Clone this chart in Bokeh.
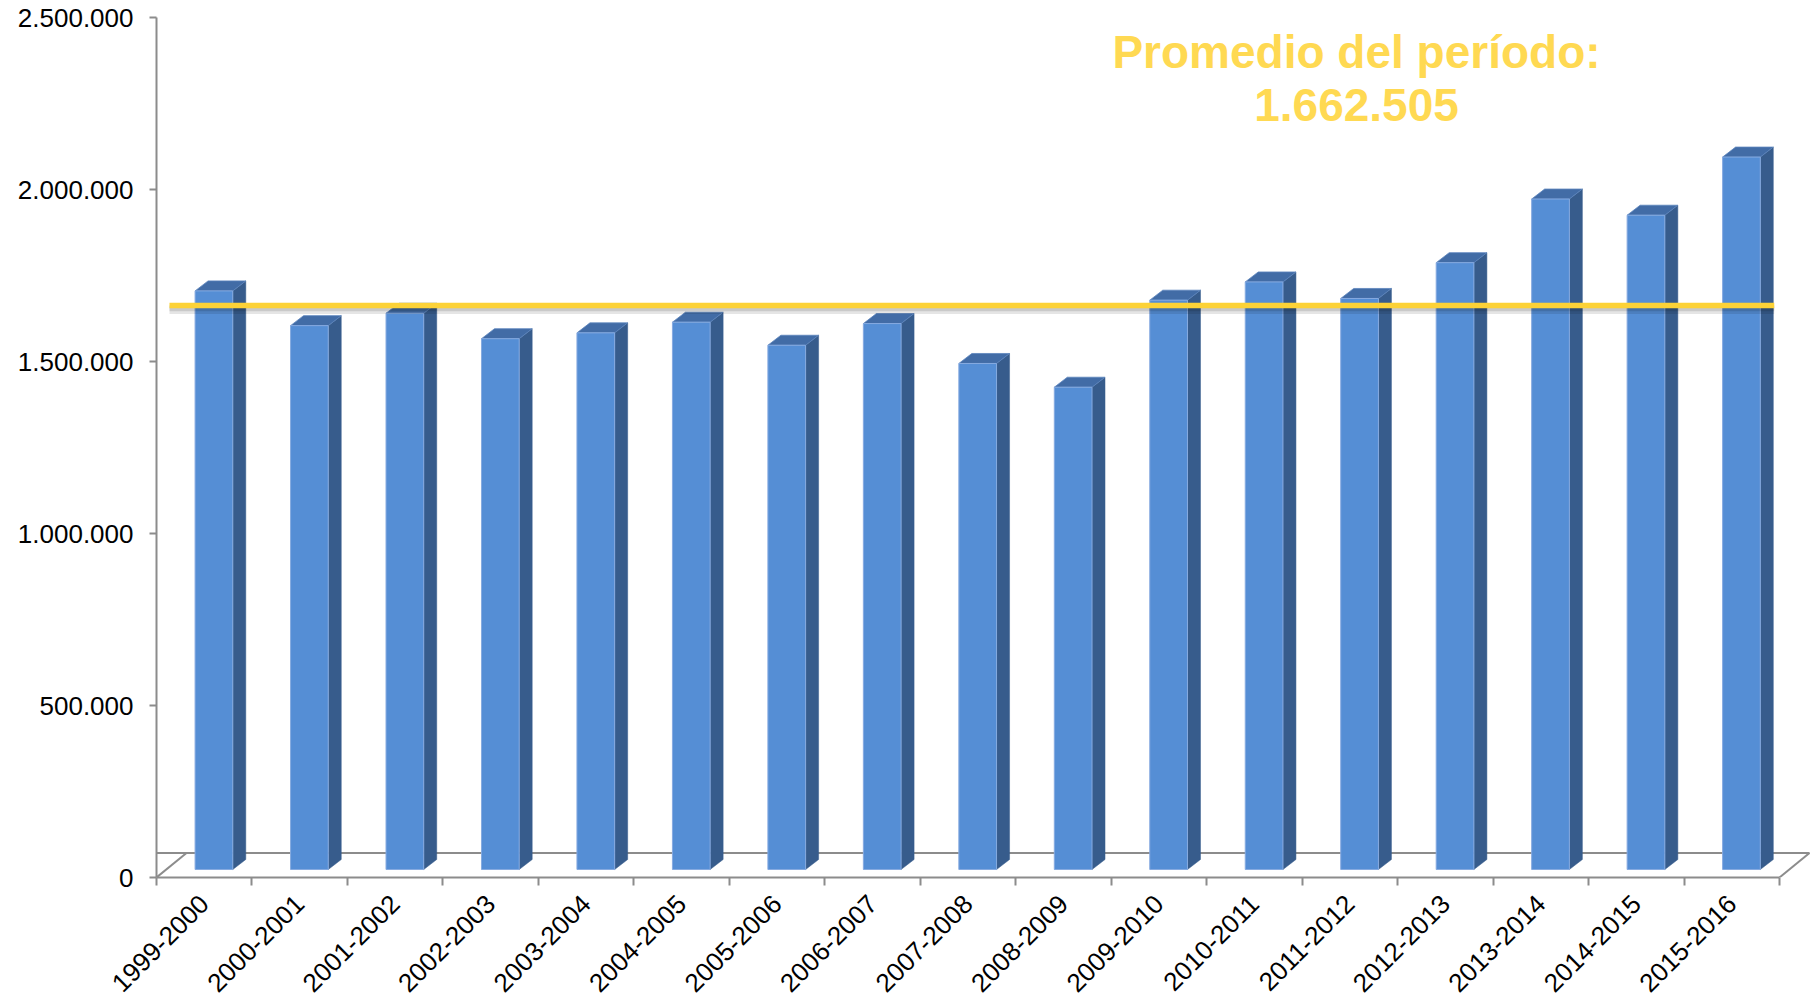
import math
from bokeh.plotting import figure
from bokeh.models import Range1d, FixedTicker, Label
from bokeh.embed import file_html
from bokeh.resources import INLINE

# ---------------- data ----------------
seasons = ["1999-2000", "2000-2001", "2001-2002", "2002-2003", "2003-2004",
           "2004-2005", "2005-2006", "2006-2007", "2007-2008", "2008-2009",
           "2009-2010", "2010-2011", "2011-2012", "2012-2013", "2013-2014",
           "2014-2015", "2015-2016"]
students = [1682000, 1581000, 1617000, 1543000, 1560000,
            1591000, 1524000, 1587000, 1471000, 1402000,
            1655000, 1708000, 1660000, 1764000, 1949000,
            1902000, 2071000]
average_value = 1662505
title_line = "Promedio del período:"
y_ticks = [0, 500000, 1000000, 1500000, 2000000, 2500000]


def fmt(v):
    return f"{v:,}".replace(",", ".")


# ---------------- layout constants ----------------
LEFT, TOP, BOTTOM = 156, 8, 127
frame_w = 1656
frame_h = 869
W = LEFT + frame_w
H = TOP + frame_h + BOTTOM
n = len(seasons)
PX_X = 95.47                 # pixels per category
Y_PER_PX = 500000 / 172.0    # value units per pixel

x_end = frame_w / PX_X
y_end = frame_h * Y_PER_PX

# 3D geometry (pixels converted to data units)
FLOOR_DX = 30 / PX_X
FLOOR_DY = 24.5 * Y_PER_PX
BAR_OFF_X = 9.7 / PX_X
BAR_OFF_Y = 8 * Y_PER_PX
BAR_DX = 13 / PX_X
BAR_DY = 10 * Y_PER_PX
BAR_W = 0.395

GRAY = "#8C8C8C"
FRONT = "#558ED5"
SIDE = "#375C8C"
TOPC = "#426CA6"
GOLD_LINE = "#FCD237"
GOLD_TEXT = "#FFD952"

p = figure(width=W, height=H,
           x_range=Range1d(0, x_end), y_range=Range1d(0, y_end),
           output_backend="svg", toolbar_location=None,
           min_border_left=LEFT, min_border_right=0,
           min_border_top=TOP, min_border_bottom=BOTTOM)
p.outline_line_color = None
p.xgrid.visible = False
p.ygrid.visible = False
p.background_fill_color = "white"
p.border_fill_color = "white"

# ---------------- floor ----------------
p.segment(x0=[0, n, 0], y0=[0, 0, FLOOR_DY],
          x1=[FLOOR_DX, n + FLOOR_DX, n + FLOOR_DX], y1=[FLOOR_DY, FLOOR_DY, FLOOR_DY],
          line_color=GRAY, line_width=2)

# ---------------- bars ----------------
lefts = [i + 0.5 - BAR_W / 2 + BAR_OFF_X for i in range(n)]
rights = [l + BAR_W for l in lefts]
bottoms = [BAR_OFF_Y] * n
tops = [BAR_OFF_Y + v for v in students]

side_xs = [[r, r + BAR_DX, r + BAR_DX, r] for r in rights]
side_ys = [[b, b + BAR_DY, t + BAR_DY, t] for b, t in zip(bottoms, tops)]
top_xs = [[l, l + BAR_DX, r + BAR_DX, r] for l, r in zip(lefts, rights)]
top_ys = [[t, t + BAR_DY, t + BAR_DY, t] for t in tops]

p.patches(xs=side_xs, ys=side_ys, fill_color=SIDE, line_color=SIDE, line_width=0.5)
p.patches(xs=top_xs, ys=top_ys, fill_color=TOPC, line_color="#5C84BC", line_width=0.8)
p.quad(left=lefts, right=rights, bottom=bottoms, top=tops,
       fill_color=FRONT, line_color="#86AAE0", line_width=1)

# ---------------- average line ----------------
line_x0 = 0.136
line_x1 = n - 0.055
shadow = 4 * Y_PER_PX
p.line(x=[line_x0, line_x1], y=[average_value - shadow] * 2,
       line_color="black", line_alpha=0.10, line_width=9)
p.line(x=[line_x0, line_x1], y=[average_value - shadow * 0.8] * 2,
       line_color="black", line_alpha=0.12, line_width=5)
p.line(x=[line_x0, line_x1], y=[average_value] * 2,
       line_color=GOLD_LINE, line_width=5.5)

# ---------------- annotation ----------------
text_x = 1200 / PX_X
p.add_layout(Label(x=text_x, y=(frame_h - 43) * Y_PER_PX, text=title_line,
                   text_font="Liberation Sans", text_font_style="bold",
                   text_font_size="46px", text_color=GOLD_TEXT,
                   text_align="center", text_baseline="middle"))
p.add_layout(Label(x=text_x, y=(frame_h - 96.5) * Y_PER_PX, text=fmt(average_value),
                   text_font="Liberation Sans", text_font_style="bold",
                   text_font_size="46px", text_color=GOLD_TEXT,
                   text_align="center", text_baseline="middle"))

# ---------------- axes ----------------
xa = p.xaxis[0]
xa.ticker = FixedTicker(ticks=[i + 0.5 for i in range(n)],
                        minor_ticks=list(range(n + 1)))
xa.major_label_overrides = {i + 0.5: s for i, s in enumerate(seasons)}
xa.major_label_orientation = math.pi / 4
xa.major_tick_line_color = None
xa.minor_tick_line_color = GRAY
xa.minor_tick_line_width = 2
xa.minor_tick_in = 0
xa.minor_tick_out = 8
xa.axis_line_color = GRAY
xa.axis_line_width = 2
xa.bounds = (0, n)
xa.major_label_text_font = "Liberation Sans"
xa.major_label_text_font_size = "26px"
xa.major_label_text_color = "black"
xa.major_label_standoff = 14

ya = p.yaxis[0]
ya.ticker = FixedTicker(ticks=y_ticks, minor_ticks=[])
ya.major_label_overrides = {v: fmt(v) for v in y_ticks}
ya.major_tick_line_color = GRAY
ya.major_tick_line_width = 2
ya.major_tick_in = 0
ya.major_tick_out = 7
ya.minor_tick_line_color = None
ya.axis_line_color = GRAY
ya.axis_line_width = 2
ya.bounds = (0, y_ticks[-1])
ya.major_label_text_font = "Liberation Sans"
ya.major_label_text_font_size = "26px"
ya.major_label_text_color = "black"
ya.major_label_standoff = 16

open("out.html", "w").write(file_html(p, INLINE))
